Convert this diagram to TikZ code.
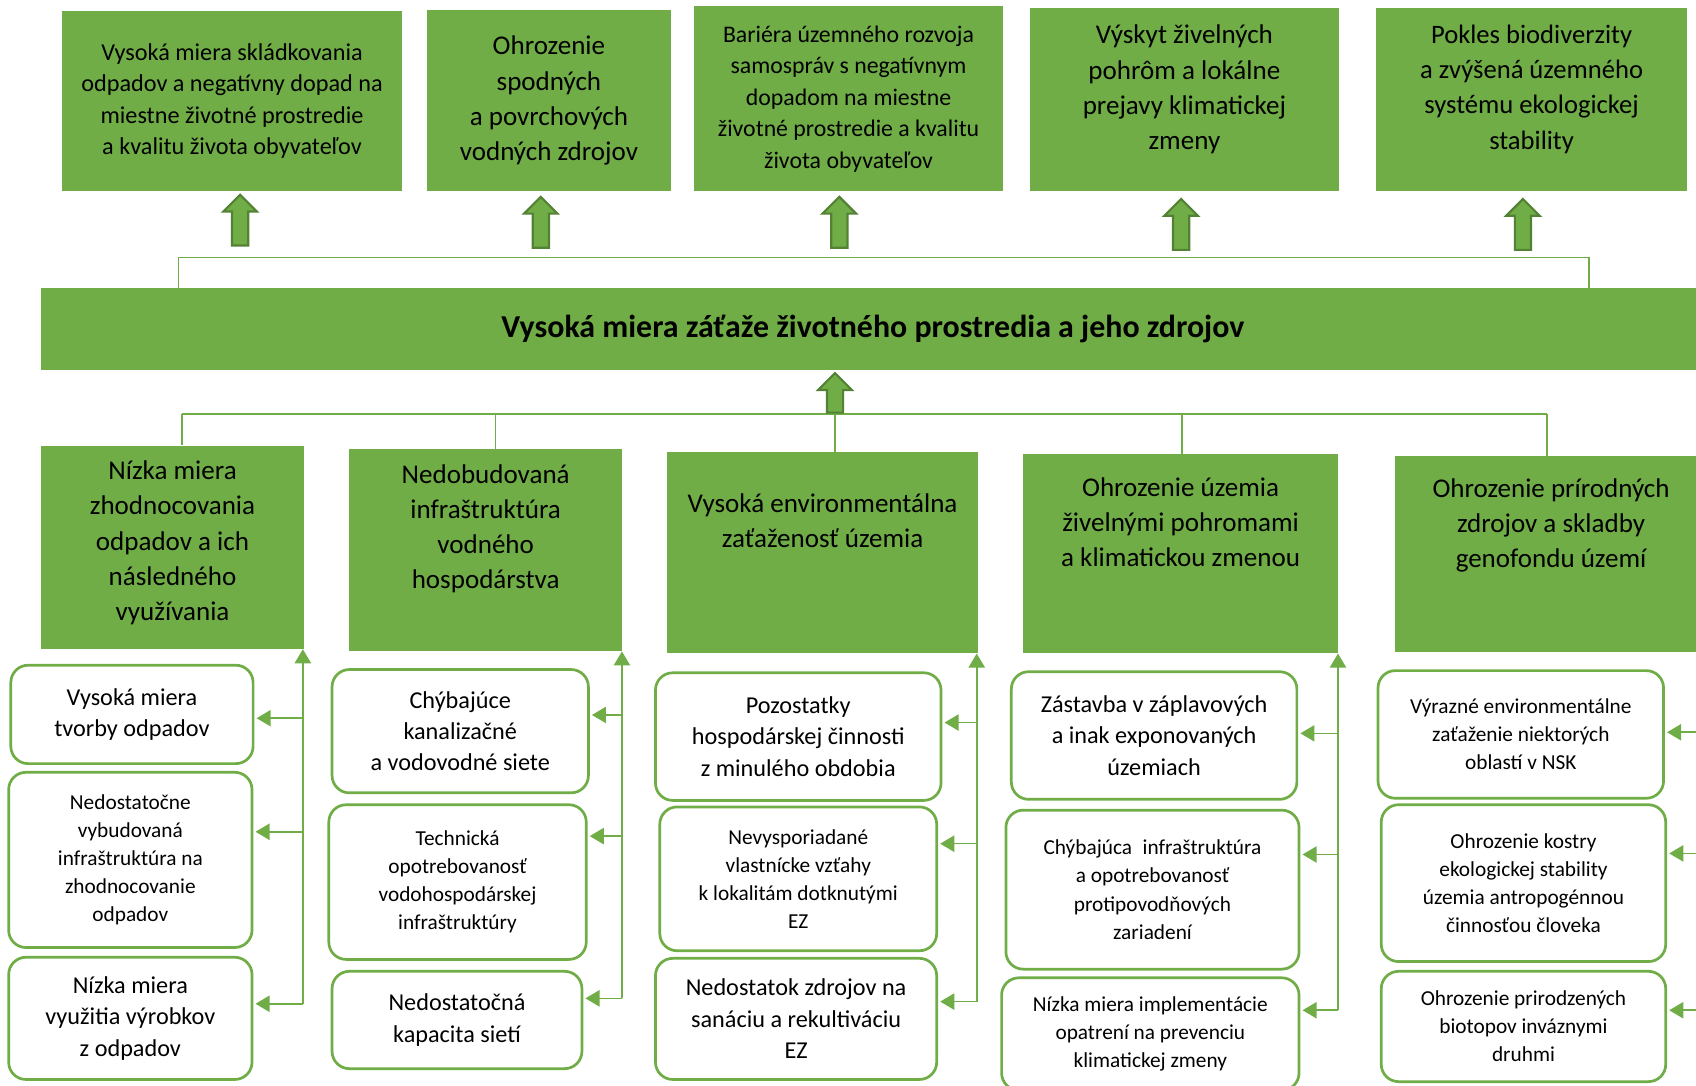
\documentclass[tikz,border=0pt]{standalone}
\usepackage{fontspec}
\setmainfont{Carlito}
\usetikzlibrary{arrows.meta}
\definecolor{gfill}{HTML}{70AD47}
\definecolor{gdark}{HTML}{548235}
\newcommand\fsz[2]{\fontsize{#1}{#2}\selectfont}
\newcommand\blockup[3]{%
  \filldraw[barrow] (#1-7.5,#3) -- (#1-7.5,#2+15.5) -- (#1-15.5,#2+15.5) -- (#1,#2)
    -- (#1+15.5,#2+15.5) -- (#1+7.5,#2+15.5) -- (#1+7.5,#3) -- cycle;}
\begin{document}
\begin{tikzpicture}[x=1pt,y=-1pt,
  gbox/.style={fill=gfill, draw=none, inner sep=0pt, align=center},
  gtxt/.style={inner sep=0pt, align=center, anchor=north},
  rbox/.style={draw=gfill, line width=2.5pt, fill=white, rounded corners=16pt, inner sep=0pt, align=center},
  big/.style={font=\fsz{22.4}{29}},
  small/.style={font=\fsz{19.7}{26}},
  midf/.style={font=\fsz{25}{32.5}},
  barrow/.style={fill=gfill, draw=gdark, line width=2pt, line join=miter},
  tline/.style={draw=gfill, line width=1.5pt},
  conn/.style={draw=gfill, line width=1.5pt, -{Triangle[length=13pt,width=15pt]}, shorten >=2pt},
  connup/.style={draw=gfill, line width=1.5pt, -{Triangle[length=13pt,width=15pt]}}
]
\path[use as bounding box] (0,0) rectangle (1568,1004);
\clip (0,0) rectangle (1568,1004);

% ---------- top row ----------
\node[gbox, minimum width=315pt, minimum height=167pt, font=\fsz{22.4}{29}] (t1) at (214.5,93.5)
  {Vysoká miera skládkovania\\odpadov a negatívny dopad na\\miestne životné prostredie\\a kvalitu života obyvateľov};
\node[gbox, minimum width=225pt, minimum height=168pt, font=\fsz{25}{32.5}] (t2) at (507.5,93)
  {Ohrozenie\\spodných\\a povrchových\\vodných zdrojov};
\node[gbox, minimum width=285pt, minimum height=171pt, font=\fsz{22}{29}] (t3) at (784.5,91.5)
  {Bariéra územného rozvoja\\samospráv s negatívnym\\dopadom na miestne\\životné prostredie a kvalitu\\života obyvateľov};
\node[gbox, minimum width=286pt, minimum height=170pt] (t4) at (1095,92) {};
\node[gtxt, font=\fsz{25}{32.5}] (t4t) at (1095,23)
  {Výskyt živelných\\pohrôm a lokálne\\prejavy klimatickej\\zmeny};
\node[gbox, minimum width=288pt, minimum height=170pt] (t5) at (1416,92) {};
\node[gtxt, font=\fsz{24.6}{32.5}] (t5t) at (1416,23)
  {Pokles biodiverzity\\a zvýšená územného\\systému ekologickej\\stability};

\blockup{222}{180}{227}
\blockup{500}{182}{229}
\blockup{776}{182}{229}
\blockup{1092}{184}{231}
\blockup{1408}{184}{231}

% ---------- main box ----------
\node[gbox, minimum width=1538pt, minimum height=76pt, font=\bfseries\fsz{29.5}{34}] (main) at (807,304)
  {Vysoká miera záťaže životného prostredia a jeho zdrojov};

\coordinate (tl) at (165,238);
\coordinate (tr) at (1469,238);
\draw[tline] (tl |- main.north) -- (tl) -- (tr) -- (tr |- main.north);

% ---------- middle row ----------
\node[gbox, minimum width=243pt, minimum height=188pt] (m1) at (159.5,506) {};
\node[gtxt, midf] (m1t) at (159.5,426)
  {Nízka miera\\zhodnocovania\\odpadov a ich\\následného\\využívania};
\node[gbox, minimum width=252pt, minimum height=187pt] (m2) at (449,508.5) {};
\node[gtxt, midf] (m2t) at (449,429)
  {Nedobudovaná\\infraštruktúra\\vodného\\hospodárstva};
\node[gbox, minimum width=287pt, minimum height=186pt] (m3) at (760.5,511) {};
\node[gtxt, midf] (m3t) at (760.5,456)
  {Vysoká environmentálna\\zaťaženosť územia};
\node[gbox, minimum width=291pt, minimum height=184pt] (m4) at (1091.5,512) {};
\node[gtxt, midf] (m4t) at (1091.5,441)
  {Ohrozenie územia\\živelnými pohromami\\a klimatickou zmenou};
\node[gbox, minimum width=288pt, minimum height=181pt] (m5) at (1434,512.5) {};
\node[gtxt, midf] (m5t) at (1434,442)
  {Ohrozenie prírodných\\zdrojov a skladby\\genofondu území};

\coordinate (ml) at (168,383);
\coordinate (mr) at (1430,383);
\coordinate (mc2) at (458,383);
\coordinate (mc3) at (772,383);
\coordinate (mc4) at (1093,383);
\draw[tline] (ml) -- (mr);
\draw[tline] (ml) -- (ml |- m1.north);
\draw[tline] (mc2) -- (mc2 |- m2.north);
\draw[tline] (mc3) -- (mc3 |- m3.north);
\draw[tline] (mc4) -- (mc4 |- m4.north);
\draw[tline] (mr) -- (mr |- m5.north);
\blockup{772}{345}{381.5}

% ---------- bottom boxes ----------
\node[rbox, big, minimum width=224pt, minimum height=91pt] (b11) at (122,660.5) {Vysoká miera\\tvorby odpadov};
\node[rbox, small, minimum width=225pt, minimum height=162pt] (b12) at (120.5,795) {Nedostatočne\\vybudovaná\\infraštruktúra na\\zhodnocovanie\\odpadov};
\node[rbox, big, minimum width=225pt, minimum height=113pt] (b13) at (120.5,941.5) {Nízka miera\\využitia výrobkov\\z odpadov};

\node[rbox, big, minimum width=237pt, minimum height=114pt] (b21) at (425.5,676) {Chýbajúce\\kanalizačné\\a vodovodné siete};
\node[rbox, small, minimum width=238pt, minimum height=143pt] (b22) at (423,815.5) {Technická\\opotrebovanosť\\vodohospodárskej\\infraštruktúry};
\node[rbox, big, minimum width=231pt, minimum height=90pt] (b23) at (422.5,943) {Nedostatočná\\kapacita sietí};

\node[rbox, big, minimum width=264pt, minimum height=118pt] (b31) at (738,681) {Pozostatky\\hospodárskej činnosti\\z minulého obdobia};
\node[rbox, small, minimum width=256pt, minimum height=133pt] (b32) at (738,812.5) {Nevysporiadané\\vlastnícke vzťahy\\k lokalitám dotknutými\\EZ};
\node[rbox, big, minimum width=260pt, minimum height=112pt] (b33) at (736,942) {Nedostatok zdrojov na\\sanáciu a rekultiváciu\\EZ};

\node[rbox, big, minimum width=264pt, minimum height=118pt] (b41) at (1067,680) {Zástavba v záplavových\\a inak exponovaných\\územiach};
\node[rbox, small, minimum width=271pt, minimum height=147pt] (b42) at (1065.5,822.5) {Chýbajúca\enspace infraštruktúra\\a opotrebovanosť\\protipovodňových\\zariadení};
\node[rbox, small, minimum width=275pt, minimum height=104pt] (b43) at (1063.5,956) {Nízka miera implementácie\\opatrení na prevenciu\\klimatickej zmeny};

\node[rbox, small, minimum width=264pt, minimum height=118pt] (b51) at (1406,679) {Výrazné environmentálne\\zaťaženie niektorých\\oblastí v NSK};
\node[rbox, small, minimum width=263pt, minimum height=145pt] (b52) at (1408.5,816.5) {Ohrozenie kostry\\ekologickej stability\\územia antropogénnou\\činnosťou človeka};
\node[rbox, small, minimum width=263pt, minimum height=102pt] (b53) at (1408.5,949) {Ohrozenie prirodzených\\biotopov inváznymi\\druhmi};

% ---------- bottom connectors ----------
% column 1
\coordinate (c1a) at (280,664);
\coordinate (c1b) at (280,769);
\coordinate (c1c) at (280,928);
\draw[connup] (c1c) -- (c1c |- m1.south);
\draw[conn] (c1a) -- (c1a -| b11.east);
\draw[conn] (c1b) -- (c1b -| b12.east);
\draw[conn] (c1c) -- (c1c -| b13.east);
% column 2
\coordinate (c2a) at (575,661);
\coordinate (c2b) at (575,773);
\coordinate (c2c) at (575,923);
\draw[connup] (c2c) -- (c2c |- m2.south);
\draw[conn] (c2a) -- (c2a -| b21.east);
\draw[conn] (c2b) -- (c2b -| b22.east);
\draw[conn] (c2c) -- (c2c -| b23.east);
% column 3
\coordinate (c3a) at (903,668);
\coordinate (c3b) at (903,780);
\coordinate (c3c) at (903,926);
\draw[connup] (c3c) -- (c3c |- m3.south);
\draw[conn] (c3a) -- (c3a -| b31.east);
\draw[conn] (c3b) -- (c3b -| b32.east);
\draw[conn] (c3c) -- (c3c -| b33.east);
% column 4
\coordinate (c4a) at (1237,678);
\coordinate (c4b) at (1237,790);
\coordinate (c4c) at (1237,934);
\draw[connup] (c4c) -- (c4c |- m4.south);
\draw[conn] (c4a) -- (c4a -| b41.east);
\draw[conn] (c4b) -- (c4b -| b42.east);
\draw[conn] (c4c) -- (c4c -| b43.east);
% column 5
\coordinate (c5a) at (1580,677);
\coordinate (c5b) at (1580,789);
\coordinate (c5c) at (1580,934);
\draw[connup] (c5c) -- (c5c |- m5.south);
\draw[conn] (c5a) -- (c5a -| b51.east);
\draw[conn] (c5b) -- (c5b -| b52.east);
\draw[conn] (c5c) -- (c5c -| b53.east);
\end{tikzpicture}
\end{document}
